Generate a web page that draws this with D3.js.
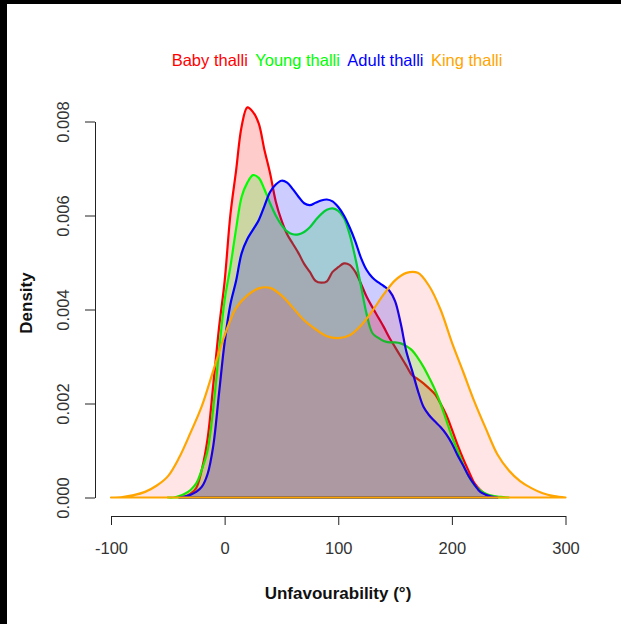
<!DOCTYPE html>
<html>
<head>
<meta charset="utf-8">
<script src="https://cdn.jsdelivr.net/npm/d3@7"></script>
<style>
  html, body { margin: 0; padding: 0; background: #fff; }
  svg { display: block; }
  text { font-family: "Liberation Sans", Arial, sans-serif; }
</style>
</head>
<body>
<svg id="chart" width="621" height="624"></svg>
<script>
// ---- data ----
const seriesNames = ["Baby thalli", "Young thalli", "Adult thalli", "King thalli"];
const lineColors = ["#FF0000", "#00FF00", "#0000FF", "#FFA500"];
const fillColors = ["rgba(255,0,0,0.2)", "rgba(0,255,0,0.2)", "rgba(0,0,255,0.2)", "rgba(255,0,0,0.1)"];

const babyX = [-40,-35,-30,-25,-20,-15,-10,-5,0,5,10,15,20,25,30,35,40,45,50,55,60,65,70,75,80,85,90,95,100,105,110,115,120,125,130,135,140,145,150,155,160,165,170,175,180,185,190,195,200,205,210,215,220,225,230,235,240];
const babyY = [0,0.00002,0.00008,0.0002,0.0006,0.00125,0.0024,0.0036,0.0046,0.006,0.00694,0.0079,0.0083,0.0082,0.00796,0.0074,0.0069,0.0063,0.0059,0.0056,0.0054,0.0052,0.00497,0.0048,0.00461,0.00457,0.0046,0.0048,0.0049,0.00498,0.00495,0.0048,0.00455,0.00427,0.00405,0.00384,0.00363,0.0034,0.0032,0.003,0.0028,0.0026,0.00252,0.00243,0.00232,0.0022,0.002,0.00176,0.00145,0.00112,0.00082,0.00055,0.0003,0.00016,0.00006,0.00002,0];

const youngX = [-50,-45,-40,-35,-30,-25,-20,-15,-10,-5,0,5,10,15,20,25,30,35,40,45,50,55,60,65,70,75,80,85,90,95,100,105,110,115,120,125,130,135,140,145,150,155,160,165,170,175,180,185,190,195,200,205,210,215,220,225,230,235,240,245,250];
const youngY = [0,0,0.00003,0.00008,0.00016,0.0003,0.0006,0.001,0.0019,0.0031,0.0042,0.0049,0.0057,0.0064,0.0067,0.00686,0.0068,0.00656,0.00626,0.006,0.0058,0.00566,0.0056,0.0056,0.00565,0.00575,0.0059,0.00603,0.00612,0.00615,0.0061,0.00595,0.0056,0.0051,0.0045,0.0039,0.0035,0.0034,0.00333,0.0033,0.0033,0.00328,0.00322,0.00313,0.00297,0.00278,0.00255,0.0023,0.002,0.00165,0.0013,0.001,0.0007,0.00044,0.00026,0.00015,0.00008,0.00004,0.00002,0.00001,0];

const adultX = [-40,-35,-30,-25,-20,-15,-10,-5,0,5,10,15,20,25,30,35,40,45,50,55,60,65,70,75,80,85,90,95,100,105,110,115,120,125,130,135,140,145,150,155,160,165,170,175,180,185,190,195,200,205,210,215,220,225,230,235,240];
const adultY = [0,0.00002,0.00006,0.00012,0.00023,0.0005,0.0011,0.0022,0.0033,0.0041,0.0046,0.0052,0.0055,0.0057,0.0059,0.0062,0.0065,0.00666,0.00674,0.0067,0.00656,0.0064,0.00626,0.00622,0.00627,0.00632,0.00634,0.0063,0.00618,0.006,0.00575,0.00545,0.0051,0.00484,0.00468,0.00458,0.0045,0.0044,0.00418,0.0037,0.0031,0.0027,0.00228,0.00193,0.00175,0.00162,0.0015,0.00135,0.00115,0.0009,0.00068,0.00045,0.00027,0.00012,0.00006,0.00002,0];

const kingX = [-100,-90,-80,-70,-60,-50,-40,-30,-20,-10,0,10,20,30,40,50,60,70,80,90,100,110,120,130,140,150,160,170,180,190,200,210,220,230,240,250,260,270,280,290,300];
const kingY = [0,0.00001,0.00005,0.00012,0.00025,0.00045,0.00085,0.00138,0.00195,0.0027,0.00345,0.00403,0.0043,0.00445,0.00446,0.0043,0.00404,0.00377,0.00358,0.00343,0.00339,0.00345,0.00366,0.00397,0.00432,0.00462,0.00478,0.00478,0.0045,0.004,0.0033,0.00267,0.00203,0.00146,0.00092,0.00058,0.00035,0.0002,0.00009,0.00003,0];

const xTicks = [-100, 0, 100, 200, 300];
const yTicks = [0, 0.002, 0.004, 0.006, 0.008];
const xTitle = "Unfavourability (°)";
const yTitle = "Density";

// ---- drawing ----
const svg = d3.select("#chart");
svg.append("rect").attr("x", 0).attr("y", 0).attr("width", 621).attr("height", 624).attr("fill", "#fff");
svg.append("rect").attr("x", 0).attr("y", 0).attr("width", 621).attr("height", 4).attr("fill", "#000");
svg.append("rect").attr("x", 0).attr("y", 0).attr("width", 7).attr("height", 624).attr("fill", "#000");

const x = d3.scaleLinear().domain([-100, 300]).range([111, 565.5]);
const y = d3.scaleLinear().domain([0, 0.008]).range([497.5, 121.5]);

const series = [
  babyX.map((v, i) => [v, babyY[i]]),
  youngX.map((v, i) => [v, youngY[i]]),
  adultX.map((v, i) => [v, adultY[i]]),
  kingX.map((v, i) => [v, kingY[i]])
];

const area = d3.area()
  .x(d => x(d[0]))
  .y0(y(0))
  .y1(d => Math.min(y(0), y(d[1])))
  .curve(d3.curveCatmullRom.alpha(0.5));

const g = svg.append("g");
series.forEach((s, i) => {
  g.append("path")
    .attr("d", area(s) + "Z")
    .attr("fill", fillColors[i])
    .attr("stroke", lineColors[i])
    .attr("stroke-width", 2.2)
    .attr("stroke-linejoin", "round");
});

// x axis
const xAxis = svg.append("g")
  .attr("transform", "translate(0,516)")
  .call(d3.axisBottom(x).tickValues(xTicks).tickSize(9).tickSizeOuter(0).tickFormat(d => String(d)));
xAxis.select(".domain").attr("stroke", "#222");
xAxis.selectAll(".tick line").attr("stroke", "#222");
xAxis.selectAll(".tick text")
  .attr("y", 38).attr("dy", 0)
  .attr("fill", "#333")
  .style("font-size", "16.5px")
  .style("font-family", "'Liberation Sans', Arial, sans-serif");

// y axis
const yAxis = svg.append("g")
  .attr("transform", "translate(95,0)")
  .call(d3.axisLeft(y).tickValues(yTicks).tickSize(10).tickSizeOuter(0).tickFormat(d3.format(".3f")));
yAxis.select(".domain").attr("stroke", "#222");
yAxis.selectAll(".tick line").attr("stroke", "#222");
yAxis.selectAll(".tick text")
  .attr("x", 0).attr("y", 0).attr("dy", 0)
  .attr("transform", "translate(-26,0) rotate(-90)")
  .attr("text-anchor", "middle")
  .attr("fill", "#333")
  .style("font-size", "16.5px")
  .style("font-family", "'Liberation Sans', Arial, sans-serif");

// axis titles
svg.append("text")
  .attr("x", 338).attr("y", 599)
  .attr("text-anchor", "middle")
  .style("font-size", "17px").style("font-weight", "bold")
  .attr("fill", "#111")
  .text(xTitle);
svg.append("text")
  .attr("transform", "translate(31.5,303) rotate(-90)")
  .attr("text-anchor", "middle")
  .style("font-size", "17px").style("font-weight", "bold")
  .attr("fill", "#111")
  .text(yTitle);

// legend (coloured labels in a row)
let lx = 171.7;
seriesNames.forEach((name, i) => {
  const t = svg.append("text")
    .attr("x", lx).attr("y", 66)
    .style("font-size", "16.5px")
    .attr("fill", lineColors[i])
    .text(name);
  lx += t.node().getComputedTextLength() + 7.4;
});
</script>
</body>
</html>
